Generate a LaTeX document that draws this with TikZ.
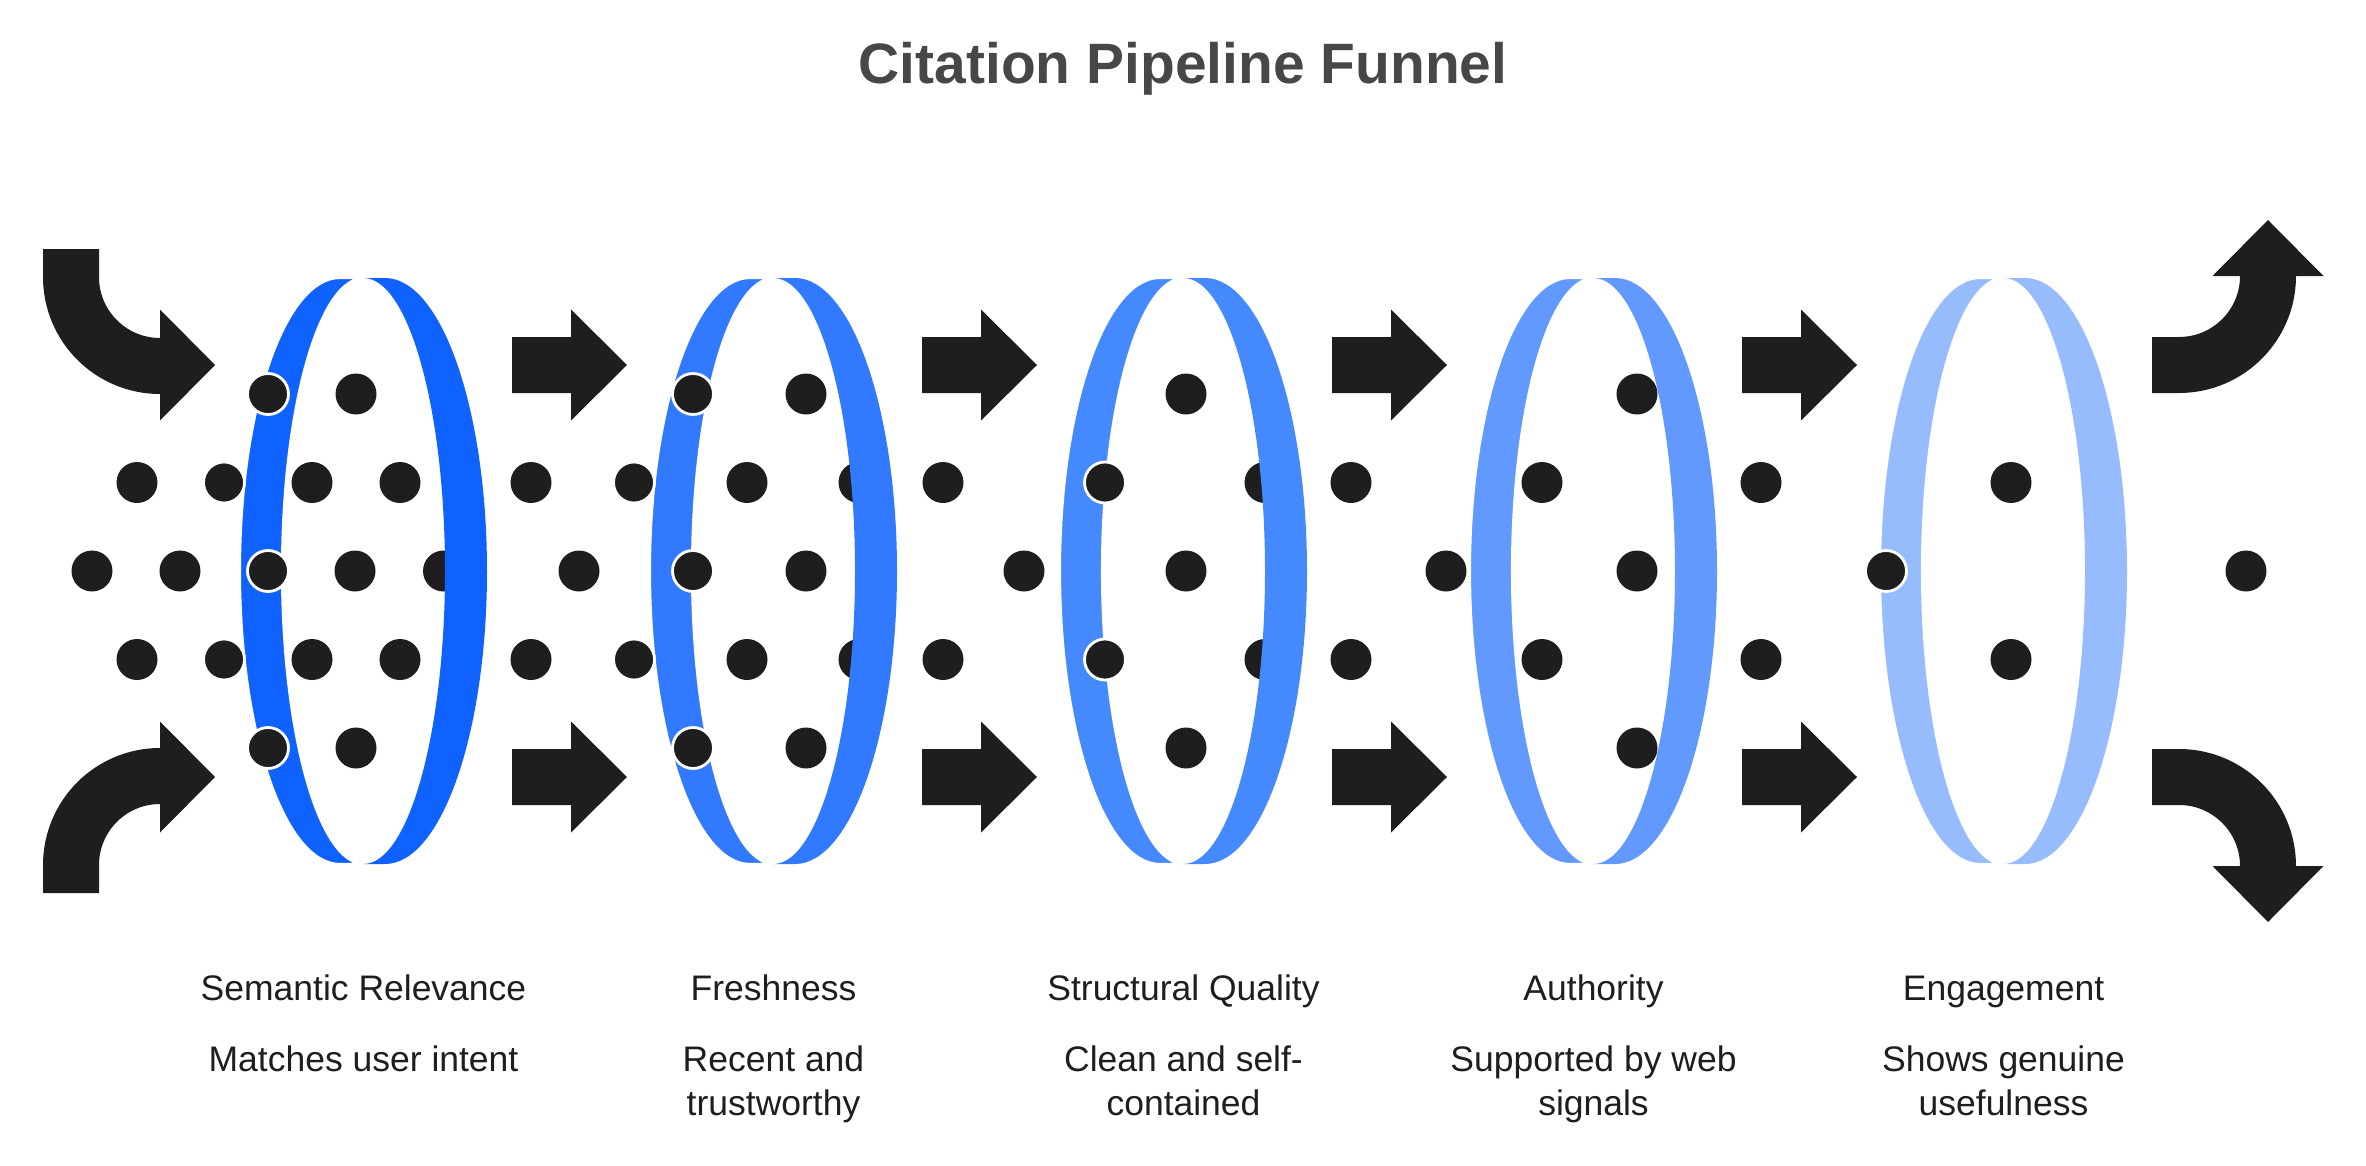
\documentclass[tikz,border=0pt]{standalone}
\usepackage{fontspec}
\setmainfont{Liberation Sans}
\usepackage{xcolor}
\usepackage{tikz}
\usetikzlibrary{arrows.meta, positioning}

\definecolor{ink}{HTML}{1E1E1E}
\definecolor{titlegray}{HTML}{474747}
\definecolor{bandA}{HTML}{0F62FE}
\definecolor{bandB}{HTML}{317AFF}
\definecolor{bandC}{HTML}{4589FF}
\definecolor{bandD}{HTML}{6199FF}
\definecolor{bandE}{HTML}{97BCFE}

% back and front half of one filter ring, #1 = centre x, #2 = colour
\newcommand{\ringback}[2]{%
  \fill[#2] (#1,8.87) -- ++(0.215,0)
    arc[start angle=90, end angle=-90, x radius=1.02, y radius=2.93]
    -- (#1,3.01) arc[start angle=-90, end angle=90, x radius=0.815, y radius=2.93] -- cycle;}
\newcommand{\ringfront}[2]{%
  \filldraw[fill=#2, draw=white, line width=0.6pt] (#1,8.87) -- ++(-0.235,0)
    arc[start angle=90, end angle=270, x radius=1.00, y radius=2.93]
    -- (#1,3.01) arc[start angle=270, end angle=90, x radius=0.815, y radius=2.93] -- cycle;}

\begin{document}
\begin{tikzpicture}[
    dot/.style={fill=ink},
    dotfront/.style={fill=ink, draw=white, line width=0.8pt},
    bendarrow/.style={draw=ink, line width=5.6mm},
    stagename/.style={font=\fontsize{10.1}{12.5}\selectfont, text=ink, inner sep=0pt, anchor=base},
    stagedesc/.style={font=\fontsize{10.1}{12.5}\selectfont, text=ink, inner sep=0pt, align=center, anchor=north}
  ]
  \useasboundingbox (0,0) rectangle (23.66,11.65);

  \node[font=\fontsize{16.2}{19}\selectfont\bfseries, text=titlegray, anchor=base, inner sep=0pt]
    (title) at (11.83,10.815) {Citation Pipeline Funnel};

  % dots behind the rings
  \foreach \x/\r in {0.92/0, 1.80/0, 3.55/0, 4.435/0, 5.79/0, 8.06/0, 10.24/0, 11.86/0, 14.46/0, 16.37/0, 22.46/0,
                     1.37/1, 3.12/1, 4.00/1, 5.31/1, 7.47/1, 8.59/1, 9.43/1, 12.65/1, 13.51/1, 15.42/1, 17.61/1, 20.11/1,
                     1.37/-1, 3.12/-1, 4.00/-1, 5.31/-1, 7.47/-1, 8.59/-1, 9.43/-1, 12.65/-1, 13.51/-1, 15.42/-1, 17.61/-1, 20.11/-1,
                     3.56/2, 8.06/2, 11.86/2, 16.37/2, 3.56/-2, 8.06/-2, 11.86/-2, 16.37/-2}
    \fill[dot] (\x,5.94+0.885*\r) circle (0.205);

  % rings
  \foreach \X/\c in {3.635/bandA, 7.735/bandB, 11.835/bandC, 15.935/bandD, 20.035/bandE} {
    \ringback{\X}{\c}
    \ringfront{\X}{\c}
  }

  % dots sitting on the front of a ring
  \foreach \x/\r in {2.68/0, 2.24/1, 2.24/-1, 2.68/2, 2.68/-2,
                     6.93/0, 6.34/1, 6.34/-1, 6.93/2, 6.93/-2,
                     11.05/1, 11.05/-1, 18.86/0}
    \filldraw[dotfront] (\x,5.94+0.885*\r) circle (0.205);

  % straight arrows between rings
  \foreach \x in {5.12, 9.22, 13.32, 17.42}
    \foreach \y in {8.00, 3.88}
      \fill[ink] (\x,\y-0.28) -- ++(0.59,0) -- ++(0,-0.275) -- (\x+1.15,\y)
        -- (\x+0.59,\y+0.555) -- ++(0,-0.275) -- (\x,\y+0.28) -- cycle;

  % curved arrows in
  \draw[bendarrow] (0.71,9.16) -- (0.71,8.88) arc[start angle=180, end angle=270, radius=0.89] -- ++(0.01,0);
  \fill[ink] (1.60,8.555) -- (2.15,8.00) -- (1.60,7.445) -- cycle;
  \draw[bendarrow] (0.71,2.72) -- (0.71,3.00) arc[start angle=180, end angle=90, radius=0.89] -- ++(0.01,0);
  \fill[ink] (1.60,4.435) -- (2.15,3.88) -- (1.60,3.325) -- cycle;

  % curved arrows out
  \draw[bendarrow] (21.52,8.00) -- (21.79,8.00) arc[start angle=270, end angle=360, radius=0.89] -- ++(0,0.01);
  \fill[ink] (22.125,8.89) -- (22.68,9.45) -- (23.235,8.89) -- cycle;
  \draw[bendarrow] (21.52,3.88) -- (21.79,3.88) arc[start angle=90, end angle=0, radius=0.89] -- ++(0,-0.01);
  \fill[ink] (22.125,2.99) -- (22.68,2.43) -- (23.235,2.99) -- cycle;

  % stage labels
  \foreach \X/\n/\d [count=\i] in {3.635/Semantic Relevance/{Matches user intent},
                                   7.735/Freshness/{Recent and\\trustworthy},
                                   11.835/Structural Quality/{Clean and self-\\contained},
                                   15.935/Authority/{Supported by web\\signals},
                                   20.035/Engagement/{Shows genuine\\usefulness}} {
    \node[stagename] (name\i) at (\X,1.65) {\n};
    \node[stagedesc] (desc\i) at (\X,1.195) {\d};
  }
\end{tikzpicture}
\end{document}
